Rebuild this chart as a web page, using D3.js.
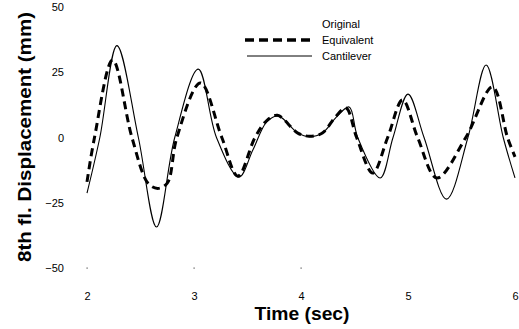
<!DOCTYPE html>
<html>
<head>
<meta charset="utf-8">
<script src="https://cdn.jsdelivr.net/npm/d3@7"></script>
<style>
  body { margin: 0; background: #fff; }
  text { font-family: "Liberation Sans", Arial, sans-serif; fill: #000; }
</style>
</head>
<body>
<div id="chart"></div>
<script>
var svgWidth = 519;
var svgHeight = 329;

// time (sec) and displacement (mm)
var cantTime = [2.00, 2.12, 2.28, 2.48, 2.65, 2.82, 3.04, 3.21, 3.42, 3.55, 3.68, 3.79, 3.97, 4.08, 4.2, 4.33, 4.45, 4.53, 4.74, 4.86, 5.00, 5.15, 5.36, 5.56, 5.73, 5.89, 6.00];
var cantValue = [-21.3, 0, 35.2, 0, -34.3, 0, 26.2, 0, -15.2, -4.8, 6, 8.2, 1.7, 0.3, 1.7, 7.8, 11.7, 0, -15.5, 0, 16.6, 0, -23.6, 0, 27.8, 0, -15.5];

var equivTime = [2.00, 2.07, 2.24, 2.42, 2.57, 2.66, 2.75, 2.84, 3.06, 3.26, 3.41, 3.57, 3.68, 3.78, 3.97, 4.08, 4.2, 4.32, 4.42, 4.52, 4.67, 4.81, 4.95, 5.09, 5.27, 5.54, 5.79, 5.93, 6.00];
var equivValue = [-17, 0, 29.7, 0, -17.5, -19.5, -17.5, 0, 20.9, 0, -14.8, 0, 6.5, 8.5, 1.7, 0.5, 1.7, 7.8, 11.3, 0, -13.6, 0, 14.4, 0, -15.5, 0, 19.4, 0, -7.4];

var yTicks = [50, 25, 0, -25, -50];
var xTicks = [2, 3, 4, 5, 6];
var xMarks = [2, 3, 4];
var legendNames = ["Original", "Equivalent", "Cantilever"];

var svg = d3.select("#chart")
    .append("svg")
    .attr("width", svgWidth)
    .attr("height", svgHeight);

var x = d3.scaleLinear().domain([2, 6]).range([87, 515]);
var y = d3.scaleLinear().domain([-50, 50]).range([268, 7]);

// y tick labels
var leftAxis = d3.axisLeft(y).tickValues(yTicks).tickSize(0).tickPadding(0).tickFormat(d3.format("d"));
svg.append("g")
    .attr("transform", "translate(64,0)")
    .call(leftAxis)
    .call(g => g.select(".domain").remove())
    .selectAll("text")
    .style("font-size", "11px")
    .style("font-family", "Liberation Sans, Arial, sans-serif");

// x tick labels
var bottomAxis = d3.axisBottom(x).tickValues(xTicks).tickSize(0).tickPadding(0).tickFormat(d3.format("d"));
svg.append("g")
    .attr("transform", "translate(0,292)")
    .call(bottomAxis)
    .call(g => g.select(".domain").remove())
    .selectAll("text")
    .style("font-size", "11px")
    .style("font-family", "Liberation Sans, Arial, sans-serif");

// tiny marks left on the -50 line
svg.selectAll("rect.mark")
    .data(xMarks)
    .enter()
    .append("rect")
    .attr("x", d => x(d) - 0.5)
    .attr("y", y(-50) - 0.5)
    .attr("width", 1.2)
    .attr("height", 1.2)
    .attr("fill", "#555");

var line = d3.line()
    .x(d => x(d[0]))
    .y(d => y(d[1]))
    .curve(d3.curveCatmullRom.alpha(0.5));

var cantData = cantTime.map((t, i) => [t, cantValue[i]]);
var equivData = equivTime.map((t, i) => [t, equivValue[i]]);

svg.append("path")
    .datum(cantData)
    .attr("d", line)
    .attr("fill", "none")
    .attr("stroke", "#000")
    .attr("stroke-width", 1.1);

svg.append("path")
    .datum(equivData)
    .attr("d", line)
    .attr("fill", "none")
    .attr("stroke", "#000")
    .attr("stroke-width", 3)
    .attr("stroke-dasharray", "8,5");

// legend
var legend = svg.append("g");
legend.selectAll("text")
    .data(legendNames)
    .enter()
    .append("text")
    .attr("x", 322)
    .attr("y", (d, i) => 24 + i * 16)
    .attr("dy", "0.35em")
    .style("font-size", "11px")
    .text(d => d);

legend.append("line")
    .attr("x1", 245).attr("x2", 312)
    .attr("y1", 40).attr("y2", 40)
    .attr("stroke", "#000")
    .attr("stroke-width", 3.5)
    .attr("stroke-dasharray", "9,5");

legend.append("line")
    .attr("x1", 247).attr("x2", 312)
    .attr("y1", 56).attr("y2", 56)
    .attr("stroke", "#000")
    .attr("stroke-width", 1);

// axis titles
svg.append("text")
    .attr("x", 302)
    .attr("y", 320)
    .attr("text-anchor", "middle")
    .attr("textLength", 95)
    .attr("lengthAdjust", "spacingAndGlyphs")
    .style("font-size", "19px")
    .style("font-weight", "bold")
    .text("Time (sec)");

svg.append("text")
    .attr("transform", "rotate(-90)")
    .attr("x", -137)
    .attr("y", 31)
    .attr("text-anchor", "middle")
    .attr("textLength", 250)
    .attr("lengthAdjust", "spacingAndGlyphs")
    .style("font-size", "19px")
    .style("font-weight", "bold")
    .text("8th fl. Displacement (mm)");
</script>
</body>
</html>
